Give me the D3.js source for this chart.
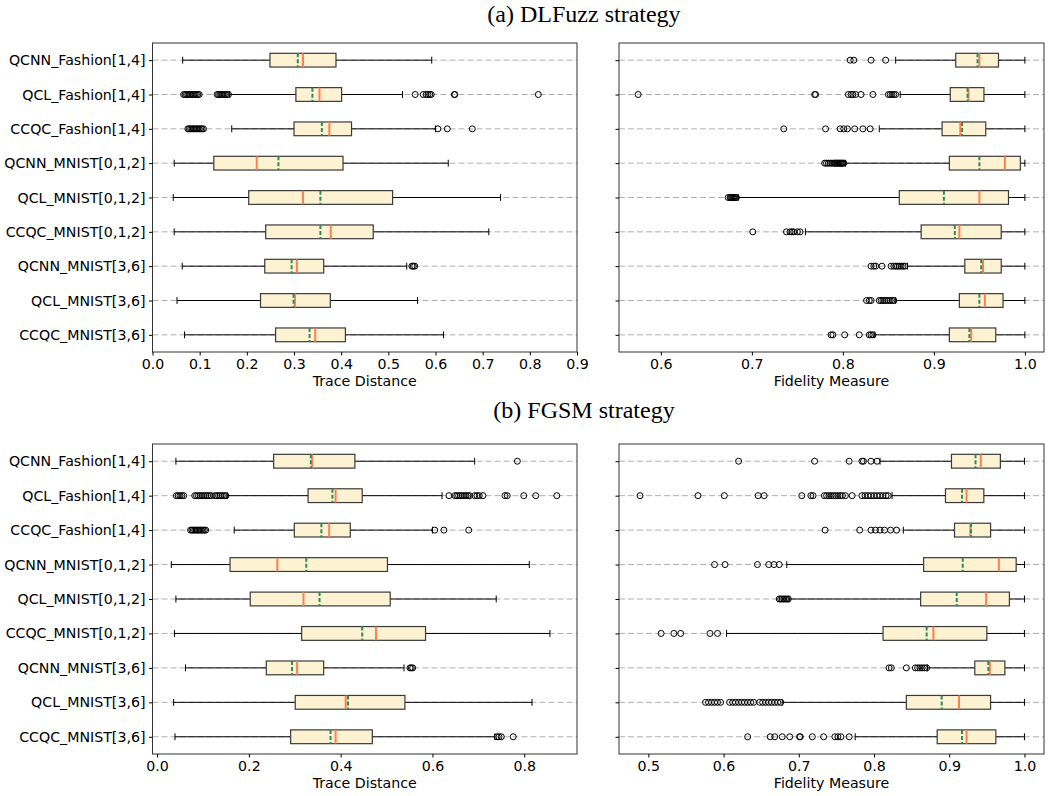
<!DOCTYPE html>
<html>
	<head>
		<style>
			body {
				margin: 0;
				background: #fff;
			}
			#chart {
				display: block;
			}
		</style>
	</head>
	<body>
		<svg id="chart" width="1050" height="796"></svg>
		<script src="https://cdnjs.cloudflare.com/ajax/libs/d3/7.8.5/d3.min.js"></script>
		<script>
			let categories = [
				'QCNN_Fashion[1,4]',
				'QCL_Fashion[1,4]',
				'CCQC_Fashion[1,4]',
				'QCNN_MNIST[0,1,2]',
				'QCL_MNIST[0,1,2]',
				'CCQC_MNIST[0,1,2]',
				'QCNN_MNIST[3,6]',
				'QCL_MNIST[3,6]',
				'CCQC_MNIST[3,6]',
			];

			// each row: [whiskerLow, q1, median, mean, q3, whiskerHigh]
			let dlfuzzTrace = [
				[0.064, 0.249, 0.319, 0.308, 0.389, 0.592],
				[0.163, 0.304, 0.354, 0.339, 0.401, 0.530],
				[0.168, 0.300, 0.375, 0.359, 0.422, 0.600],
				[0.046, 0.130, 0.221, 0.267, 0.404, 0.627],
				[0.044, 0.204, 0.319, 0.356, 0.509, 0.738],
				[0.046, 0.240, 0.378, 0.356, 0.468, 0.713],
				[0.063, 0.238, 0.306, 0.295, 0.363, 0.539],
				[0.052, 0.229, 0.302, 0.299, 0.377, 0.562],
				[0.068, 0.261, 0.345, 0.333, 0.409, 0.617],
			];
			let dlfuzzTraceFliers = [
				[],
				[0.066, 0.069, 0.072, 0.075, 0.078, 0.081, 0.084, 0.087, 0.090, 0.093, 0.096, 0.099,
					0.137, 0.140, 0.143, 0.146, 0.149, 0.152, 0.155, 0.158, 0.161,
					0.557, 0.574, 0.580, 0.584, 0.588, 0.591, 0.640, 0.641, 0.818],
				[0.075, 0.078, 0.081, 0.084, 0.087, 0.090, 0.093, 0.096, 0.099, 0.102, 0.105, 0.108,
					0.605, 0.625, 0.678],
				[],
				[],
				[],
				[0.550, 0.553, 0.556],
				[],
				[],
			];

			let dlfuzzFidelity = [
				[0.858, 0.924, 0.950, 0.948, 0.971, 1.0],
				[0.863, 0.918, 0.938, 0.937, 0.955, 1.0],
				[0.840, 0.909, 0.929, 0.931, 0.957, 1.0],
				[0.803, 0.917, 0.978, 0.950, 0.995, 1.0],
				[0.685, 0.862, 0.950, 0.911, 0.982, 1.0],
				[0.759, 0.886, 0.928, 0.923, 0.974, 1.0],
				[0.871, 0.934, 0.954, 0.952, 0.974, 1.0],
				[0.858, 0.928, 0.956, 0.950, 0.976, 1.0],
				[0.835, 0.917, 0.941, 0.939, 0.968, 1.0],
			];
			let dlfuzzFidelityFliers = [
				[0.808, 0.812, 0.831, 0.847],
				[0.575, 0.769, 0.770, 0.806, 0.809, 0.811, 0.814, 0.820, 0.833,
					0.850, 0.852, 0.854, 0.856, 0.858],
				[0.735, 0.781, 0.797, 0.801, 0.805, 0.813, 0.822, 0.830],
				[0.780, 0.782, 0.784, 0.786, 0.788, 0.790, 0.791, 0.792, 0.793, 0.794,
					0.795, 0.796, 0.797, 0.798, 0.799, 0.800, 0.801],
				[0.674, 0.676, 0.677, 0.678, 0.679, 0.680, 0.681, 0.682, 0.683],
				[0.701, 0.738, 0.742, 0.744, 0.746, 0.750, 0.753],
				[0.831, 0.834, 0.836, 0.843, 0.853, 0.856, 0.858, 0.860, 0.862, 0.864, 0.866, 0.868],
				[0.826, 0.829, 0.831, 0.840, 0.842, 0.844, 0.846, 0.848, 0.850, 0.852, 0.854, 0.856],
				[0.787, 0.789, 0.802, 0.818, 0.829, 0.831, 0.833],
			];

			let fgsmTrace = [
				[0.041, 0.254, 0.338, 0.335, 0.431, 0.692],
				[0.153, 0.329, 0.389, 0.382, 0.447, 0.621],
				[0.168, 0.299, 0.375, 0.358, 0.421, 0.600],
				[0.031, 0.159, 0.262, 0.325, 0.502, 0.811],
				[0.041, 0.203, 0.319, 0.354, 0.508, 0.739],
				[0.038, 0.315, 0.477, 0.447, 0.585, 0.856],
				[0.062, 0.238, 0.305, 0.294, 0.363, 0.538],
				[0.036, 0.301, 0.411, 0.416, 0.540, 0.817],
				[0.039, 0.291, 0.389, 0.378, 0.469, 0.736],
			];
			let fgsmTraceFliers = [
				[0.785],
				[0.042, 0.046, 0.050, 0.054, 0.058, 0.082, 0.086, 0.090, 0.094, 0.098, 0.102,
					0.106, 0.110, 0.114, 0.118, 0.126, 0.130, 0.134, 0.138, 0.142, 0.146, 0.150,
					0.636, 0.649, 0.653, 0.657, 0.661, 0.665, 0.669, 0.673, 0.677, 0.681,
					0.692, 0.697, 0.702, 0.710, 0.758, 0.763, 0.799, 0.825, 0.871],
				[0.073, 0.076, 0.079, 0.082, 0.085, 0.088, 0.091, 0.094, 0.097, 0.100, 0.103, 0.106,
					0.605, 0.625, 0.679],
				[],
				[],
				[],
				[0.551, 0.554, 0.557],
				[],
				[0.741, 0.745, 0.750, 0.776],
			];

			let fgsmFidelity = [
				[0.808, 0.903, 0.942, 0.935, 0.968, 1.0],
				[0.824, 0.895, 0.923, 0.917, 0.946, 1.0],
				[0.839, 0.907, 0.928, 0.929, 0.955, 1.0],
				[0.684, 0.866, 0.966, 0.918, 0.989, 1.0],
				[0.687, 0.862, 0.949, 0.910, 0.980, 1.0],
				[0.604, 0.812, 0.879, 0.870, 0.950, 1.0],
				[0.871, 0.934, 0.954, 0.952, 0.974, 1.0],
				[0.678, 0.843, 0.913, 0.890, 0.955, 1.0],
				[0.775, 0.884, 0.923, 0.917, 0.962, 1.0],
			];
			let fgsmFidelityFliers = [
				[0.620, 0.721, 0.767, 0.784, 0.786, 0.796, 0.804],
				[0.489, 0.566, 0.601, 0.646, 0.654, 0.704, 0.716, 0.719, 0.734, 0.737, 0.740,
					0.743, 0.746, 0.749, 0.752, 0.755, 0.758, 0.762, 0.771, 0.784, 0.788, 0.792,
					0.796, 0.800, 0.804, 0.808, 0.812, 0.816, 0.819],
				[0.735, 0.781, 0.796, 0.802, 0.808, 0.814, 0.822, 0.830],
				[0.588, 0.602, 0.645, 0.660, 0.667, 0.674],
				[0.674, 0.676, 0.678, 0.680, 0.682, 0.684, 0.686],
				[0.517, 0.534, 0.543, 0.582, 0.592],
				[0.820, 0.823, 0.843, 0.855, 0.858, 0.861, 0.864, 0.867, 0.870],
				[0.576, 0.580, 0.584, 0.588, 0.592, 0.596, 0.608, 0.612, 0.616, 0.620, 0.624,
					0.628, 0.632, 0.636, 0.640, 0.648, 0.652, 0.656, 0.660, 0.664, 0.668, 0.672, 0.676],
				[0.632, 0.662, 0.668, 0.678, 0.688, 0.701, 0.702, 0.718, 0.733, 0.748, 0.752,
					0.756, 0.767],
			];

			let traceTicksA = [0, 0.1, 0.2, 0.3, 0.4, 0.5, 0.6, 0.7, 0.8, 0.9];
			let fidelityTicksA = [0.6, 0.7, 0.8, 0.9, 1.0];
			let traceTicksB = [0, 0.2, 0.4, 0.6, 0.8];
			let fidelityTicksB = [0.5, 0.6, 0.7, 0.8, 0.9, 1.0];

			let titles = ['(a) DLFuzz strategy', '(b) FGSM strategy'];
			let xLabels = ['Trace Distance', 'Fidelity Measure'];

			let colors = {
				box: '#fdf2d2',
				edge: '#3a3a3a',
				median: '#ff7f50',
				mean: '#2e8b57',
				grid: '#b0b0b0',
			};

			let font = "'DejaVu Sans', sans-serif";
			let fontSize = '14.2px';
			let svg = d3.select('#chart');

			let cols = [
				{ x0: 152.5, x1: 577 },
				{ x0: 619, x1: 1044 },
			];
			let rows = [
				{ y0: 43, y1: 352 },
				{ y0: 444, y1: 754 },
			];

			drawPanel(cols[0], rows[0], [0, 0.9], traceTicksA, dlfuzzTrace, dlfuzzTraceFliers, xLabels[0], true);
			drawPanel(cols[1], rows[0], [0.554, 1.021], fidelityTicksA, dlfuzzFidelity, dlfuzzFidelityFliers, xLabels[1], false);
			drawPanel(cols[0], rows[1], [-0.010, 0.915], traceTicksB, fgsmTrace, fgsmTraceFliers, xLabels[0], true);
			drawPanel(cols[1], rows[1], [0.461, 1.026], fidelityTicksB, fgsmFidelity, fgsmFidelityFliers, xLabels[1], false);

			svg.selectAll('text.title')
				.data(titles)
				.enter()
				.append('text')
				.attr('class', 'title')
				.attr('x', 584)
				.attr('y', (d, i) => (i === 0 ? 22 : 418))
				.attr('text-anchor', 'middle')
				.style('font-family', "'Liberation Serif', 'Times New Roman', serif")
				.style('font-size', '24px')
				.style('fill', '#000')
				.text(d => d);

			function drawPanel(col, row, domain, ticks, stats, fliers, xLabel, showNames) {
				let x = d3.scaleLinear().domain(domain).range([col.x0, col.x1]);
				let y = d3.scaleLinear().domain([0.5, 9.5]).range([row.y0, row.y1]);
				let g = svg.append('g');

				let positions = categories.map((c, i) => i + 1);
				let half = y(1.2) - y(1);
				let cap = y(1.1) - y(1);

				// dashed grid
				g.selectAll('line.grid')
					.data(positions)
					.enter()
					.append('line')
					.attr('x1', col.x0)
					.attr('x2', col.x1)
					.attr('y1', d => y(d))
					.attr('y2', d => y(d))
					.attr('stroke', colors.grid)
					.attr('stroke-width', 1)
					.attr('stroke-dasharray', '6,3');

				let boxes = g.selectAll('g.box')
					.data(stats)
					.enter()
					.append('g')
					.attr('transform', (d, i) => `translate(0, ${y(i + 1)})`);

				// whiskers
				boxes.append('line')
					.attr('x1', d => x(d[0]))
					.attr('x2', d => x(d[1]))
					.attr('stroke', '#000')
					.attr('stroke-width', 1);
				boxes.append('line')
					.attr('x1', d => x(d[4]))
					.attr('x2', d => x(d[5]))
					.attr('stroke', '#000')
					.attr('stroke-width', 1);
				boxes.append('line')
					.attr('x1', d => x(d[0]))
					.attr('x2', d => x(d[0]))
					.attr('y1', -cap)
					.attr('y2', cap)
					.attr('stroke', '#000');
				boxes.append('line')
					.attr('x1', d => x(d[5]))
					.attr('x2', d => x(d[5]))
					.attr('y1', -cap)
					.attr('y2', cap)
					.attr('stroke', '#000');

				boxes.append('rect')
					.attr('x', d => x(d[1]))
					.attr('width', d => x(d[4]) - x(d[1]))
					.attr('y', -half)
					.attr('height', 2 * half)
					.attr('fill', colors.box)
					.attr('stroke', colors.edge)
					.attr('stroke-width', 1.2);

				boxes.append('line')
					.attr('x1', d => x(d[2]))
					.attr('x2', d => x(d[2]))
					.attr('y1', -half)
					.attr('y2', half)
					.attr('stroke', colors.median)
					.attr('stroke-width', 2);
				boxes.append('line')
					.attr('x1', d => x(d[3]))
					.attr('x2', d => x(d[3]))
					.attr('y1', -half)
					.attr('y2', half)
					.attr('stroke', colors.mean)
					.attr('stroke-width', 2)
					.attr('stroke-dasharray', '4,2');

				// outliers
				let pts = [];
				fliers.forEach((list, i) => list.forEach(v => pts.push({ v, p: i + 1 })));
				g.selectAll('circle')
					.data(pts)
					.enter()
					.append('circle')
					.attr('cx', d => x(d.v))
					.attr('cy', d => y(d.p))
					.attr('r', 3)
					.attr('fill', 'none')
					.attr('stroke', '#000')
					.attr('stroke-width', 1);

				// frame
				g.append('rect')
					.attr('x', col.x0)
					.attr('y', row.y0)
					.attr('width', col.x1 - col.x0)
					.attr('height', row.y1 - row.y0)
					.attr('fill', 'none')
					.attr('stroke', '#333')
					.attr('stroke-width', 1);

				let xAxis = g.append('g')
					.attr('transform', `translate(0, ${row.y1})`)
					.call(d3.axisBottom(x).tickValues(ticks).tickFormat(d3.format('.1f'))
						.tickSize(3.5).tickPadding(3.5).tickSizeOuter(0));
				let yAxis = g.append('g')
					.attr('transform', `translate(${col.x0}, 0)`)
					.call(d3.axisLeft(y).tickValues(positions)
						.tickFormat(d => (showNames ? categories[d - 1] : ''))
						.tickSize(3.5).tickPadding(3.5).tickSizeOuter(0));

				[xAxis, yAxis].forEach(a => {
					a.select('.domain').remove();
					a.selectAll('line').attr('stroke', '#000');
					a.selectAll('text')
						.style('font-family', font)
						.style('font-size', fontSize)
						.attr('fill', '#000');
				});

				g.append('text')
					.attr('x', (col.x0 + col.x1) / 2)
					.attr('y', row.y1 + 34)
					.attr('text-anchor', 'middle')
					.style('font-family', font)
					.style('font-size', fontSize)
					.text(xLabel);
			}
		</script>
	</body>
</html>
